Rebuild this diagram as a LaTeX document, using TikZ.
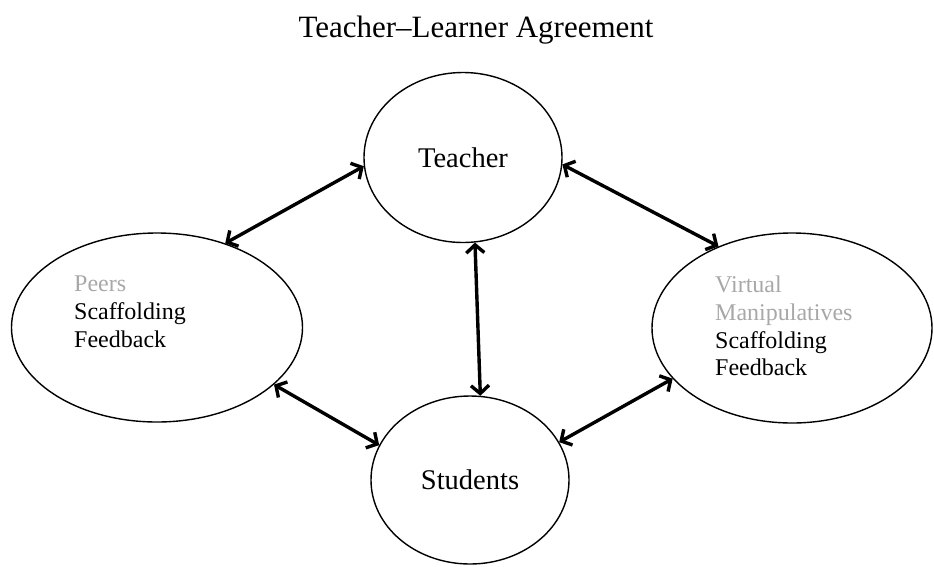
\documentclass[tikz,border=0pt]{standalone}
\usepackage{fontspec}
\setmainfont{Liberation Serif}
\usepackage{xcolor}
\usepackage{tikz}
\usetikzlibrary{arrows.meta, shapes.geometric}
\definecolor{softgray}{gray}{0.66}

\begin{document}
\begin{tikzpicture}[
        x=1pt, y=-1pt,
        role/.style={ellipse, draw=black, line width=1.4pt, inner sep=0pt, minimum width=198pt, minimum height=170pt, font=\fontsize{28.5}{34}\selectfont},
        aid/.style={ellipse, draw=black, line width=1.4pt, inner sep=0pt},
        notes/.style={inner sep=0pt, align=left, anchor=north west, font=\fontsize{24}{27.7}\selectfont},
        arrow/.style={{Straight Barb[length=8pt, width=18pt]}-{Straight Barb[length=8pt, width=18pt]}, line width=3.4pt}
    ]
        \useasboundingbox (0,0) rectangle (934,566);
        \node[anchor=base, inner sep=0pt, font=\fontsize{31}{36}\selectfont] (title) at (476,37) {Teacher--Learner Agreement};

        \node[role] (teacher) at (463,157.5) {Teacher};
        \node[role, minimum height=168pt] (students) at (470,480) {Students};
        \node[aid, minimum width=291pt, minimum height=189pt] (peers) at (157,327.5) {};
        \node[aid, minimum width=280pt, minimum height=190pt] (virtual) at (792,328) {};

        \node[notes] (peerstext) at (74,276) {\textcolor{softgray}{Peers}\\Scaffolding\\Feedback};
        \node[notes] (virtualtext) at (715,276) {\textcolor{softgray}{Virtual}\\\textcolor{softgray}{Manipulatives}\\Scaffolding\\Feedback};

        \draw[arrow] (peers.51) -- (teacher.185);
        \draw[arrow] (teacher.356) -- (virtual.132);
        \draw[arrow] (teacher.278) -- (students.83);
        \draw[arrow] (peers.334) -- (students.159);
        \draw[arrow] (students.23) -- (virtual.203);
    \end{tikzpicture}
\end{document}
